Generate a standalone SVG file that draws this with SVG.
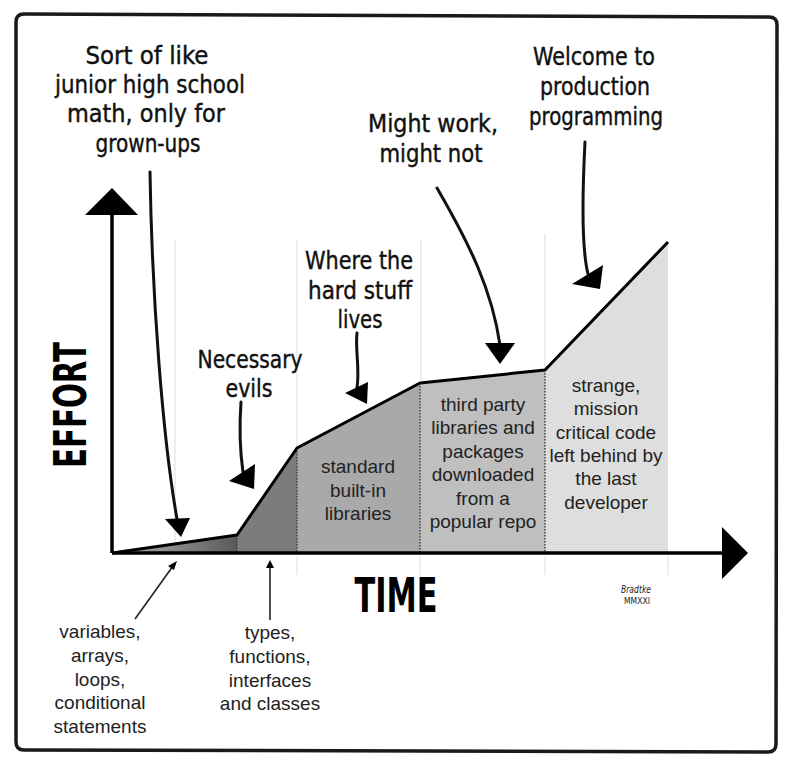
<svg xmlns="http://www.w3.org/2000/svg" width="788" height="765" viewBox="0 0 788 765">
  <defs>
    <linearGradient id="g1" x1="112" y1="0" x2="237" y2="0" gradientUnits="userSpaceOnUse">
      <stop offset="0" stop-color="#b5b5b5"/>
      <stop offset="1" stop-color="#5a5a5a"/>
    </linearGradient>
    <style>
      .hand { font-family: "DejaVu Sans Condensed", "DejaVu Sans", sans-serif; font-size: 25px; fill: #111; text-anchor: middle; stroke: #111; stroke-width: 0.4; }
      .lbl { font-family: "Liberation Sans", Arial, sans-serif; font-size: 19px; fill: #222; text-anchor: middle; }
      .big { font-family: "DejaVu Sans", sans-serif; font-weight: bold; fill: #000; text-anchor: middle; }
      .grid { stroke: #e8e8e8; stroke-width: 1.5; fill: none; }
      .dot { stroke: #444; stroke-width: 1.5; stroke-dasharray: 1.5 1.5; fill: none; }
      .arr { stroke: #111; stroke-width: 3; fill: none; stroke-linecap: round; }
      .thin { stroke: #222; stroke-width: 1.6; fill: none; }
      .head { fill: #000; }
    </style>
  </defs>
  <rect width="788" height="765" fill="#fff"/>
  <path id="frame" d="M16,22 Q16,14 24,14 L769,17 Q777,17 777,25 L776,744 Q776,752 768,752 L24,750 Q16,750 16,742 Z" fill="none" stroke="#1a1a1a" stroke-width="3.5"/>

  <g id="grid">
    <line class="grid" x1="175" y1="240" x2="175" y2="553"/>
    <line class="grid" x1="297" y1="240" x2="297" y2="448"/>
    <line class="grid" x1="421" y1="240" x2="421" y2="383"/>
    <line class="grid" x1="545" y1="234" x2="545" y2="370"/>
    <line class="grid" x1="297" y1="556" x2="297" y2="575"/>
    <line class="grid" x1="420" y1="556" x2="420" y2="575"/>
    <line class="grid" x1="545" y1="556" x2="545" y2="575"/>
    <line class="grid" x1="668" y1="556" x2="668" y2="575"/>
  </g>

  <g id="region-basics">
    <polygon points="112,553 237,535 237,553" fill="url(#g1)"/>
  </g>
  <g id="region-types">
    <polygon points="237,535 297,448 297,553 237,553" fill="#7c7c7c"/>
  </g>
  <g id="region-standard">
    <polygon points="297,448 420,383 420,553 297,553" fill="#a9a9a9"/>
    <text class="lbl" x="358" y="473">standard</text>
    <text class="lbl" x="358" y="497">built-in</text>
    <text class="lbl" x="358" y="520">libraries</text>
  </g>
  <g id="region-thirdparty">
    <polygon points="420,383 545,370 545,553 420,553" fill="#bfbfbf"/>
    <text class="lbl" x="483" y="411">third party</text>
    <text class="lbl" x="483" y="434">libraries and</text>
    <text class="lbl" x="483" y="458">packages</text>
    <text class="lbl" x="483" y="481">downloaded</text>
    <text class="lbl" x="483" y="505">from a</text>
    <text class="lbl" x="483" y="528">popular repo</text>
  </g>
  <g id="region-legacy">
    <polygon points="545,370 668,242 668,553 545,553" fill="#dedede"/>
    <text class="lbl" x="606" y="392">strange,</text>
    <text class="lbl" x="606" y="415">mission</text>
    <text class="lbl" x="606" y="439">critical code</text>
    <text class="lbl" x="606" y="462">left behind by</text>
    <text class="lbl" x="606" y="485">the last</text>
    <text class="lbl" x="606" y="509">developer</text>
  </g>

  <g id="dividers">
    <line class="dot" x1="237" y1="535" x2="237" y2="553"/>
    <line class="dot" x1="297" y1="448" x2="297" y2="553"/>
    <line class="dot" x1="420" y1="383" x2="420" y2="553"/>
    <line class="dot" x1="545" y1="370" x2="545" y2="553"/>
  </g>

  <g id="curve">
    <polyline points="112,553 237,535 297,448 420,383 545,370 668,242" fill="none" stroke="#000" stroke-width="3" stroke-linejoin="round"/>
  </g>

  <g id="axes">
    <line x1="112" y1="553" x2="726" y2="553" stroke="#000" stroke-width="3.5"/>
    <polygon points="748,553 722,527 722,579" fill="#000"/>
    <line x1="112" y1="553" x2="112" y2="212" stroke="#000" stroke-width="3.5"/>
    <polygon points="112,188 85,215 138,215" fill="#000"/>
  </g>

  <g id="axis-effort">
    <text class="big" transform="translate(86,405) rotate(-90)" x="0" y="0" font-size="44" textLength="126" lengthAdjust="spacingAndGlyphs">EFFORT</text>
  </g>
  <g id="axis-time">
    <text class="big" x="396" y="612" font-size="48" textLength="83" lengthAdjust="spacingAndGlyphs">TIME</text>
  </g>

  <g id="note-math">
    <text class="hand" x="147" y="64" textLength="123" lengthAdjust="spacingAndGlyphs">Sort of like</text>
    <text class="hand" x="150" y="93" textLength="190" lengthAdjust="spacingAndGlyphs">junior high school</text>
    <text class="hand" x="146" y="122" textLength="158" lengthAdjust="spacingAndGlyphs">math, only for</text>
    <text class="hand" x="148" y="152" textLength="105" lengthAdjust="spacingAndGlyphs">grown-ups</text>
  </g>
  <g id="note-production">
    <text class="hand" x="594" y="65" textLength="122" lengthAdjust="spacingAndGlyphs">Welcome to</text>
    <text class="hand" x="595" y="95" textLength="110" lengthAdjust="spacingAndGlyphs">production</text>
    <text class="hand" x="596" y="125" textLength="134" lengthAdjust="spacingAndGlyphs">programming</text>
  </g>
  <g id="note-might">
    <text class="hand" x="433" y="132" textLength="130" lengthAdjust="spacingAndGlyphs">Might work,</text>
    <text class="hand" x="431" y="162" textLength="103" lengthAdjust="spacingAndGlyphs">might not</text>
  </g>
  <g id="note-hard">
    <text class="hand" x="359" y="269" textLength="108" lengthAdjust="spacingAndGlyphs">Where the</text>
    <text class="hand" x="360" y="299" textLength="104" lengthAdjust="spacingAndGlyphs">hard stuff</text>
    <text class="hand" x="360" y="328" textLength="45" lengthAdjust="spacingAndGlyphs">lives</text>
  </g>
  <g id="note-evils">
    <text class="hand" x="250" y="368" textLength="105" lengthAdjust="spacingAndGlyphs">Necessary</text>
    <text class="hand" x="249" y="397" textLength="47" lengthAdjust="spacingAndGlyphs">evils</text>
  </g>

  <g id="label-basics">
    <text class="lbl" x="100" y="638">variables,</text>
    <text class="lbl" x="100" y="662">arrays,</text>
    <text class="lbl" x="100" y="686">loops,</text>
    <text class="lbl" x="100" y="709">conditional</text>
    <text class="lbl" x="100" y="733">statements</text>
  </g>
  <g id="label-types">
    <text class="lbl" x="270" y="639">types,</text>
    <text class="lbl" x="270" y="663">functions,</text>
    <text class="lbl" x="270" y="687">interfaces</text>
    <text class="lbl" x="270" y="710">and classes</text>
  </g>

  <g id="signature">
    <text x="636" y="593" font-family="DejaVu Sans Condensed, sans-serif" font-size="10" font-style="italic" fill="#222" text-anchor="middle" textLength="30" lengthAdjust="spacingAndGlyphs">Bradtke</text>
    <text x="637" y="604" font-family="DejaVu Sans Condensed, sans-serif" font-size="9" fill="#222" text-anchor="middle" textLength="26" lengthAdjust="spacingAndGlyphs">MMXXI</text>
  </g>

  <g id="connectors">
    <path class="arr" d="M150,172 C152,300 163,440 177,519"/>
    <polygon class="head" points="165,519 190,518 181,537"/>
    <path class="arr" d="M241,402 C239,430 241,458 243,472"/>
    <polygon class="head" points="229,481 255,464 254,489"/>
    <path class="arr" d="M357,333 C355,350 360,368 357,388"/>
    <polygon class="head" points="345,393 368,382 367,404"/>
    <path class="arr" d="M437,188 C470,245 492,290 500,345"/>
    <polygon class="head" points="485,343 515,343 500,364"/>
    <path class="arr" d="M585,142 C582,200 582,250 588,274"/>
    <polygon class="head" points="572,284 603,265 600,289"/>
    <path class="thin" d="M135,619 L173,566"/>
    <polygon class="head" points="177,561 168,566 174,570"/>
    <path class="thin" d="M270,620 L270,566"/>
    <polygon class="head" points="270,560 266,568 274,568"/>
  </g>
</svg>
